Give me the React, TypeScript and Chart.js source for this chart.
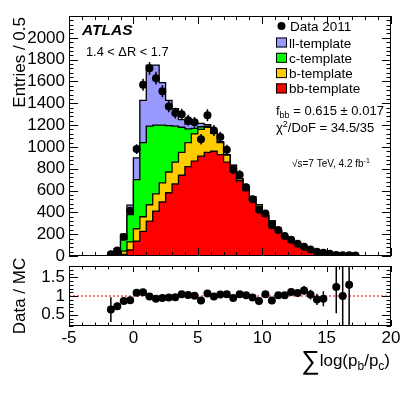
import React, { useEffect, useRef } from 'react';
import { Chart, registerables } from 'chart.js';

Chart.register(...registerables);

const FONT = "'Liberation Sans', Arial, Helvetica, sans-serif";

// ---- data ----
const binCenters = [
  -1.75, -1.25, -0.75, -0.25, 0.25, 0.75, 1.25, 1.75, 2.25, 2.75,
  3.25, 3.75, 4.25, 4.75, 5.25, 5.75, 6.25, 6.75, 7.25, 7.75,
  8.25, 8.75, 9.25, 9.75, 10.25, 10.75, 11.25, 11.75, 12.25, 12.75,
  13.25, 13.75, 14.25, 14.75, 15.25, 15.75, 16.25, 16.75, 17.25,
];
const binHalfWidth = 0.25;

const bbTemplate = [
  0, 3, 15, 55, 135, 225, 320, 410, 495, 580,
  660, 740, 820, 870, 915, 950, 960, 930, 860, 775,
  690, 600, 520, 450, 365, 310, 225, 172, 130, 100,
  71, 55, 42, 30, 21, 7, 5, 4, 3,
];
const bTemplate = [
  2, 9, 30, 75, 115, 135, 150, 160, 175, 190,
  200, 210, 220, 250, 245, 230, 165, 110, 65, 52,
  18, 16, 20, 18, 5, 10, 6, 6, 4, 3,
  2, 2, 1, 1, 1, 1, 1, 0.5, 0,
];
const cTemplate = [
  10, 38, 105, 250, 450, 680, 720, 630, 530, 425,
  330, 230, 125, 50, 25, 10, 10, 5, 3, 3,
  2, 2, 2, 2, 1, 2, 2, 2, 1, 1,
  1, 1, 1, 1, 0, 0, 0, 0, 0,
];
const llTemplate = [
  11, 18, 50, 86, 200, 387, 560, 550, 390, 232,
  160, 70, 45, 43, 31, 15, 5, 3, 1, 2,
  0, 0, 0, 0, 0, 0, 0, 0, 0, 0,
  0, 0, 0, 0, 0, 0, 0, 0, 0,
];
const data2011 = [
  15, 50, 175, 415, 980, 1570, 1720, 1630, 1510, 1370,
  1310, 1300, 1245, 1225, 1070, 1290, 1150, 1090, 975, 790,
  745, 630, 520, 425, 390, 283, 238, 183, 150, 112,
  85, 60, 40, 30, 20, 10, 6, 6, 4,
];
const data2011Err = [
  8, 10, 20, 30, 45, 55, 58, 58, 55, 52,
  50, 50, 50, 50, 48, 55, 50, 48, 45, 40,
  40, 36, 33, 30, 30, 25, 22, 20, 18, 16,
  14, 12, 10, 9, 7, 5, 4, 4, 3,
];
const ratioValues: (number | null)[] = [
  0.64, 0.73, 0.87, 0.89, 1.09, 1.10, 0.99, 0.93, 0.95, 0.96,
  0.97, 1.05, 1.03, 1.01, 0.88, 1.07, 0.99, 1.04, 1.05, 0.95,
  1.05, 1.02, 0.96, 0.87, 1.05, 0.88, 1.02, 1.02, 1.11, 1.08,
  1.15, 1.04, 0.91, 0.93, null, 1.24, 1.0, 1.3, null,
];
const ratioErr = [
  0.33, 0.1, 0.05, 0.04, 0.03, 0.03, 0.02, 0.02, 0.02, 0.03,
  0.03, 0.03, 0.03, 0.03, 0.03, 0.03, 0.03, 0.03, 0.03, 0.04,
  0.04, 0.04, 0.04, 0.05, 0.05, 0.06, 0.07, 0.07, 0.08, 0.09,
  0.12, 0.13, 0.15, 0.2, 0, 0.7, 1.5, 1.5, 0,
];

const mainYTicks = [0, 200, 400, 600, 800, 1000, 1200, 1400, 1600, 1800, 2000];
const xTickValues = [-5, 0, 5, 10, 15, 20];
const ratioYTicks = [0.5, 1, 1.5];

const X_MIN = -5, X_MAX = 20;
const MAIN_Y_MAX = 2200;
const RATIO_Y_MIN = 0.2, RATIO_Y_MAX = 1.8;

const legendItems = [
  { label: 'll-template', color: '#9999ff' },
  { label: 'c-template', color: '#00ff00' },
  { label: 'b-template', color: '#ffcc00' },
  { label: 'bb-template', color: '#ff0000' },
];

// ---- helpers ----
function addArrays(...arrs: number[][]) {
  return arrs[0].map((_, i) => arrs.reduce((s, a) => s + a[i], 0));
}
function stepPoints(vals: number[]) {
  const pts = [{ x: X_MIN, y: 0 }];
  binCenters.forEach((c, i) => pts.push({ x: c - binHalfWidth, y: vals[i] }));
  pts.push({ x: binCenters[binCenters.length - 1] + binHalfWidth, y: 0 });
  pts.push({ x: X_MAX, y: 0 });
  return pts;
}

type Part = { t: string; size: number; dy?: number; weight?: string; style?: string };
function drawRich(ctx: CanvasRenderingContext2D, parts: Part[], x: number, y: number, align: 'left' | 'right' = 'left') {
  ctx.save();
  ctx.fillStyle = '#000';
  ctx.textBaseline = 'alphabetic';
  ctx.textAlign = 'left';
  const fontOf = (p: Part) => `${p.style || 'normal'} ${p.weight || 'normal'} ${p.size}px ${FONT}`;
  let total = 0;
  parts.forEach((p) => { ctx.font = fontOf(p); total += ctx.measureText(p.t).width; });
  let cx = align === 'right' ? x - total : x;
  parts.forEach((p) => {
    ctx.font = fontOf(p);
    ctx.fillText(p.t, cx, y + (p.dy || 0));
    cx += ctx.measureText(p.t).width;
  });
  ctx.restore();
}

function drawFrameTicks(chart: any, o: { xMajor: number; xMinor: number; yMajor: number; yMinor: number; yStep: number; yMajorEvery: number; yStart: number; yEnd: number }) {
  const { ctx, chartArea: a, scales } = chart;
  const xs = scales.x, ys = scales.y;
  ctx.save();
  ctx.strokeStyle = '#000';
  ctx.lineWidth = 1;
  ctx.strokeRect(a.left + 0.5, a.top + 0.5, a.right - a.left - 1, a.bottom - a.top - 1);
  ctx.beginPath();
  for (let v = X_MIN; v <= X_MAX; v += 1) {
    const px = Math.round(xs.getPixelForValue(v)) + 0.5;
    const len = v % 5 === 0 ? o.xMajor : o.xMinor;
    ctx.moveTo(px, a.bottom); ctx.lineTo(px, a.bottom - len);
    ctx.moveTo(px, a.top); ctx.lineTo(px, a.top + len);
  }
  const n = Math.round((o.yEnd - o.yStart) / o.yStep);
  for (let k = 0; k <= n; k++) {
    const v = o.yStart + k * o.yStep;
    const py = Math.round(ys.getPixelForValue(v)) + 0.5;
    const isMajor = Math.abs(v / o.yMajorEvery - Math.round(v / o.yMajorEvery)) < 1e-6;
    const len = isMajor ? o.yMajor : o.yMinor;
    ctx.moveTo(a.left, py); ctx.lineTo(a.left + len, py);
    ctx.moveTo(a.right, py); ctx.lineTo(a.right - len, py);
  }
  ctx.stroke();
  ctx.restore();
}

function drawErrorBars(chart: any, values: (number | null)[], errs: number[]) {
  const { ctx, chartArea: a, scales } = chart;
  ctx.save();
  ctx.beginPath();
  ctx.rect(a.left, a.top, a.right - a.left, a.bottom - a.top);
  ctx.clip();
  ctx.strokeStyle = '#000';
  ctx.lineWidth = 1.5;
  ctx.beginPath();
  binCenters.forEach((c, i) => {
    const v = values[i];
    if (v == null || !errs[i]) return;
    const px = scales.x.getPixelForValue(c);
    ctx.moveTo(px, scales.y.getPixelForValue(v - errs[i]));
    ctx.lineTo(px, scales.y.getPixelForValue(v + errs[i]));
  });
  ctx.stroke();
  ctx.restore();
}

const tickFont = { family: FONT, size: 17 };

function mainConfig(): any {
  const bbTop = bbTemplate.slice();
  const bTop = addArrays(bbTemplate, bTemplate);
  const cTop = addArrays(bbTemplate, bTemplate, cTemplate);
  const llTop = addArrays(bbTemplate, bTemplate, cTemplate, llTemplate);
  const histDs = (label: string, vals: number[], color: string) => ({
    type: 'line', label, data: stepPoints(vals), stepped: true, fill: 'origin',
    backgroundColor: color, borderColor: '#000', borderWidth: 1.3, pointRadius: 0, tension: 0,
  });
  const plugin = {
    id: 'mainDecor',
    afterDatasetsDraw(chart: any) { drawErrorBars(chart, data2011, data2011Err); },
    afterDraw(chart: any) {
      const ctx = chart.ctx as CanvasRenderingContext2D;
      drawFrameTicks(chart, { xMajor: 8, xMinor: 4, yMajor: 9, yMinor: 4.5, yStep: 40, yMajorEvery: 200, yStart: 0, yEnd: MAIN_Y_MAX });
      drawRich(ctx, [{ t: 'ATLAS', size: 15.5, weight: 'bold', style: 'italic' }], 82, 35);
      drawRich(ctx, [{ t: '1.4 < \u0394R < 1.7', size: 12.8 }], 86, 56);
      ctx.save();
      ctx.fillStyle = '#000';
      ctx.beginPath();
      ctx.arc(281.5, 26, 4, 0, Math.PI * 2);
      ctx.fill();
      ctx.restore();
      drawRich(ctx, [{ t: 'Data 2011', size: 13.5 }], 290, 31);
      legendItems.forEach((it, i) => {
        const yTop = 37.5 + i * 15.3;
        ctx.save();
        ctx.fillStyle = it.color;
        ctx.fillRect(276, yTop, 11, 10);
        ctx.strokeStyle = '#000';
        ctx.lineWidth = 1;
        ctx.strokeRect(276.5, yTop + 0.5, 10, 9);
        ctx.restore();
        drawRich(ctx, [{ t: it.label, size: 13.5 }], 289, yTop + 10);
      });
      drawRich(ctx, [{ t: 'f', size: 13 }, { t: 'bb', size: 9, dy: 3 }, { t: ' = 0.615 \u00b1 0.017', size: 13 }], 276, 115);
      drawRich(ctx, [{ t: '\u03c7', size: 13 }, { t: '2', size: 9, dy: -5 }, { t: '/DoF = 34.5/35', size: 13 }], 276, 132);
      drawRich(ctx, [{ t: '\u221as=7 TeV, 4.2 fb', size: 10 }, { t: '-1', size: 7, dy: -4 }], 292, 167);
      ctx.save();
      ctx.translate(20, 17);
      ctx.rotate(-Math.PI / 2);
      ctx.font = `17px ${FONT}`;
      ctx.fillStyle = '#000';
      ctx.textAlign = 'right';
      ctx.textBaseline = 'middle';
      ctx.fillText('Entries / 0.5', 0, 0);
      ctx.restore();
    },
  };
  return {
    type: 'line',
    data: {
      datasets: [
        {
          type: 'scatter', label: 'Data 2011',
          data: binCenters.map((c, i) => ({ x: c, y: data2011[i] })),
          pointRadius: 4, pointBackgroundColor: '#000', pointBorderColor: '#000', pointBorderWidth: 0, showLine: false,
        },
        histDs('bb-template', bbTop, '#ff0000'),
        histDs('b-template', bTop, '#ffcc00'),
        histDs('c-template', cTop, '#00ff00'),
        histDs('ll-template', llTop, '#9999ff'),
      ],
    },
    options: {
      responsive: false, animation: false, devicePixelRatio: 1,
      layout: { padding: { top: 16, left: 0, right: 24, bottom: 139 } },
      plugins: { legend: { display: false }, tooltip: { enabled: false } },
      scales: {
        x: { type: 'linear', min: X_MIN, max: X_MAX, display: false },
        y: {
          type: 'linear', min: 0, max: MAIN_Y_MAX,
          afterBuildTicks(s: any) { s.ticks = mainYTicks.map((v) => ({ value: v })); },
          afterFit(s: any) { s.width = 69; },
          ticks: { font: tickFont, color: '#000', padding: 4, callback: (v: any) => String(v) },
          grid: { display: false, drawTicks: false },
          border: { display: false },
        },
      },
    },
    plugins: [plugin],
  };
}

function ratioConfig(): any {
  const pts: { x: number; y: number }[] = [];
  binCenters.forEach((c, i) => { const v = ratioValues[i]; if (v != null) pts.push({ x: c, y: v }); });
  const plugin = {
    id: 'ratioDecor',
    beforeDatasetsDraw(chart: any) {
      const { ctx, chartArea: a, scales } = chart;
      const py = scales.y.getPixelForValue(1);
      ctx.save();
      ctx.strokeStyle = '#e00000';
      ctx.lineWidth = 1;
      ctx.setLineDash([2, 2]);
      ctx.beginPath();
      ctx.moveTo(a.left, py); ctx.lineTo(a.right, py);
      ctx.stroke();
      ctx.restore();
    },
    afterDatasetsDraw(chart: any) { drawErrorBars(chart, ratioValues, ratioErr); },
    afterDraw(chart: any) {
      const ctx = chart.ctx as CanvasRenderingContext2D;
      drawFrameTicks(chart, { xMajor: 6, xMinor: 3.5, yMajor: 9, yMinor: 4.5, yStep: 0.1, yMajorEvery: 0.5, yStart: RATIO_Y_MIN, yEnd: RATIO_Y_MAX });
      ctx.save();
      ctx.translate(20, 296);
      ctx.rotate(-Math.PI / 2);
      ctx.font = `17px ${FONT}`;
      ctx.fillStyle = '#000';
      ctx.textAlign = 'center';
      ctx.textBaseline = 'middle';
      ctx.fillText('Data / MC', 0, 0);
      ctx.restore();
      drawRich(ctx, [
        { t: '\u2211', size: 26, dy: 3 },
        { t: 'log(p', size: 17 },
        { t: 'b', size: 12, dy: 4 },
        { t: '/p', size: 17 },
        { t: 'c', size: 12, dy: 4 },
        { t: ')', size: 17 },
      ], 390, 366, 'right');
    },
  };
  return {
    type: 'scatter',
    data: {
      datasets: [{
        label: 'Data / MC', data: pts,
        pointRadius: 4, pointBackgroundColor: '#000', pointBorderColor: '#000', pointBorderWidth: 0,
      }],
    },
    options: {
      responsive: false, animation: false, devicePixelRatio: 1,
      layout: { padding: { top: 266, left: 0, right: 24, bottom: 0 } },
      plugins: { legend: { display: false }, tooltip: { enabled: false } },
      scales: {
        x: {
          type: 'linear', min: X_MIN, max: X_MAX,
          afterBuildTicks(s: any) { s.ticks = xTickValues.map((v) => ({ value: v })); },
          afterFit(s: any) { s.height = 69; },
          ticks: { font: tickFont, color: '#000', padding: 2, maxRotation: 0, autoSkip: false, callback: (v: any) => String(v) },
          grid: { display: false, drawTicks: false },
          border: { display: false },
        },
        y: {
          type: 'linear', min: RATIO_Y_MIN, max: RATIO_Y_MAX,
          afterBuildTicks(s: any) { s.ticks = ratioYTicks.map((v) => ({ value: v })); },
          afterFit(s: any) { s.width = 69; },
          ticks: { font: tickFont, color: '#000', padding: 4, callback: (v: any) => String(v) },
          grid: { display: false, drawTicks: false },
          border: { display: false },
        },
      },
    },
    plugins: [plugin],
  };
}

export default function App() {
  const mainRef = useRef<HTMLCanvasElement>(null);
  const ratioRef = useRef<HTMLCanvasElement>(null);
  useEffect(() => {
    const main = new Chart(mainRef.current as HTMLCanvasElement, mainConfig());
    const ratio = new Chart(ratioRef.current as HTMLCanvasElement, ratioConfig());
    return () => { main.destroy(); ratio.destroy(); };
  }, []);
  return (
    <div style={{ position: 'fixed', left: 0, top: 0, width: 415, height: 395, background: '#fff' }}>
      <canvas ref={mainRef} width={415} height={395} style={{ position: 'absolute', left: 0, top: 0 }} />
      <canvas ref={ratioRef} width={415} height={395} style={{ position: 'absolute', left: 0, top: 0 }} />
    </div>
  );
}
